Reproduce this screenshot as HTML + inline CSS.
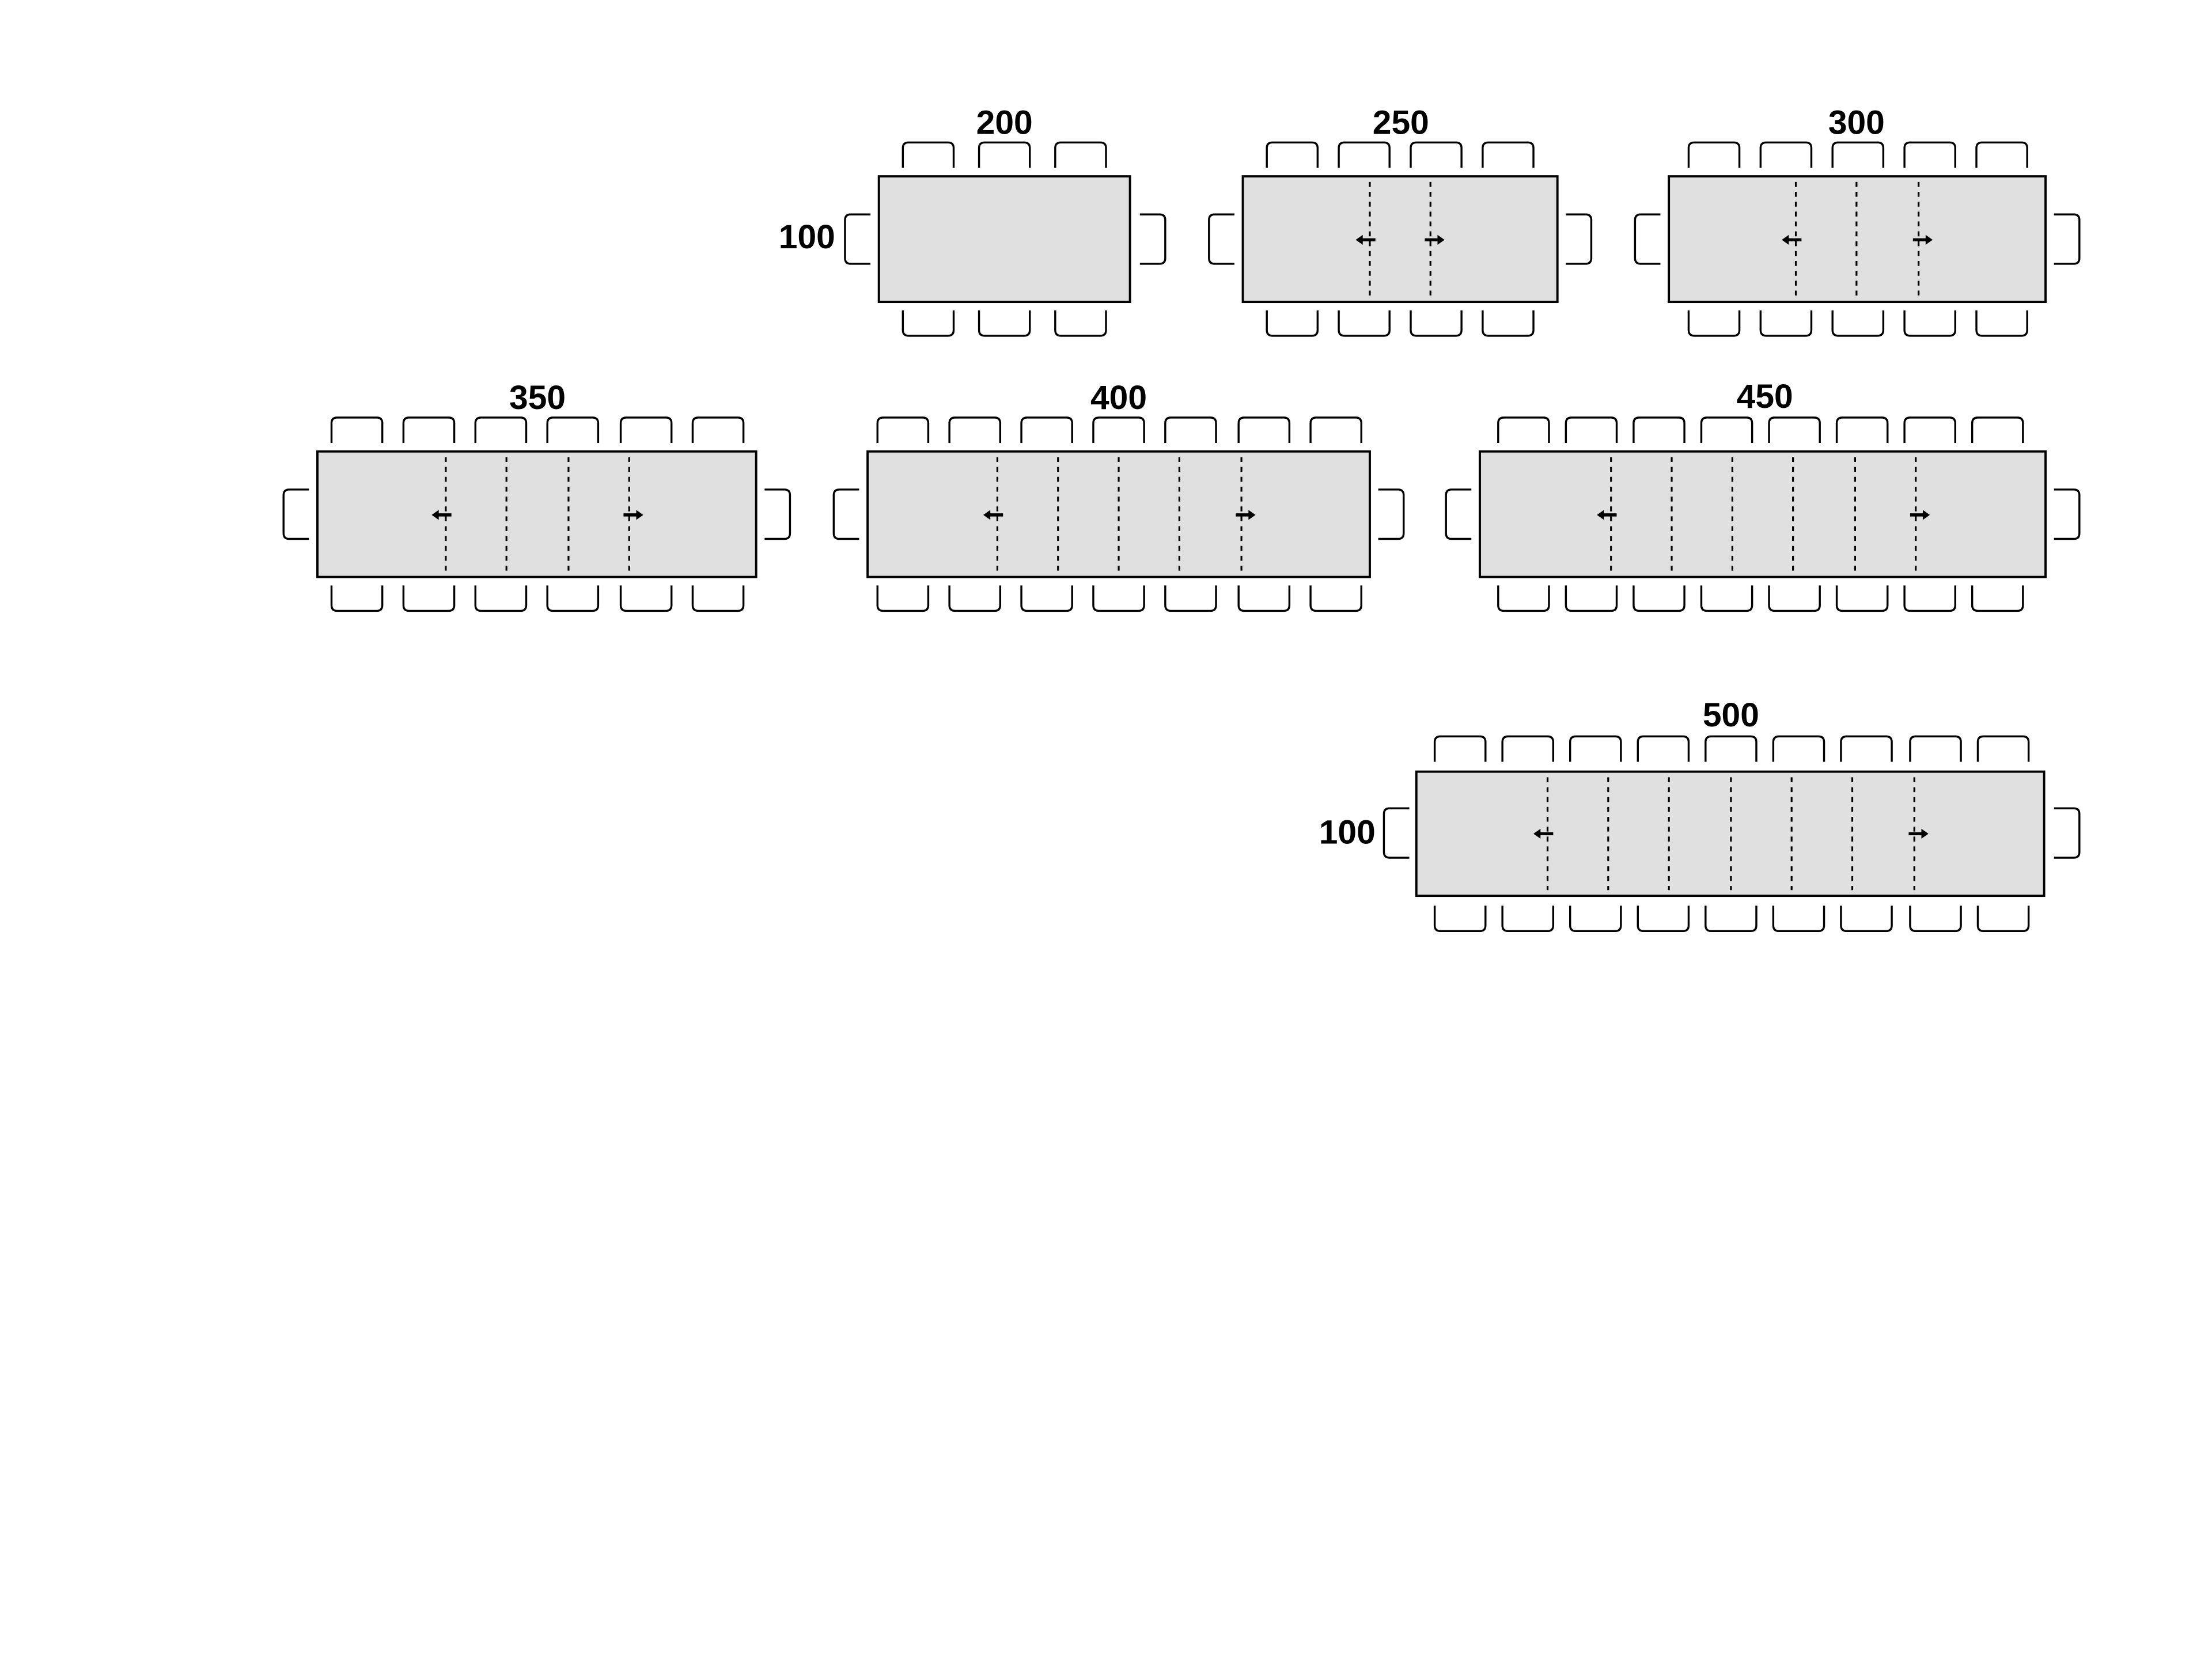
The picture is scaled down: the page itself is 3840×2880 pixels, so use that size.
<!DOCTYPE html>
<html><head><meta charset="utf-8"><style>
html,body{margin:0;padding:0;background:#fff;}
svg{display:block;}
text{font-family:"Liberation Sans","DejaVu Sans",sans-serif;font-weight:bold;font-size:24px;fill:#000;}
</style></head><body>
<svg width="3840" height="2880" viewBox="0 0 1568 1176" xmlns="http://www.w3.org/2000/svg">
<defs>
<path id="ct" d="M0,18 V4 Q0,0 4,0 H32 Q36,0 36,4 V18" fill="none" stroke="#000" stroke-width="1.4"/>
<path id="cb" d="M0,0 V14 Q0,18 4,18 H32 Q36,18 36,14 V0" fill="none" stroke="#000" stroke-width="1.4"/>
<path id="cl" d="M18,0 H4 Q0,0 0,4 V31 Q0,35 4,35 H18" fill="none" stroke="#000" stroke-width="1.4"/>
<path id="cr" d="M0,0 H14 Q18,0 18,4 V31 Q18,35 14,35 H0" fill="none" stroke="#000" stroke-width="1.4"/>
<g id="al"><line x1="4" y1="0" x2="-6" y2="0" stroke="#000" stroke-width="2.2"/><polygon points="-10,0 -5,-3.5 -5,3.5" fill="#000"/></g>
<g id="ar"><line x1="-4" y1="0" x2="6" y2="0" stroke="#000" stroke-width="2.2"/><polygon points="10,0 5,-3.5 5,3.5" fill="#000"/></g>
</defs>
<g stroke="#000" stroke-width="1.6" fill="#e0e0e0">
<rect x="623" y="125" width="178" height="89"/>
<rect x="881" y="125" width="223" height="89"/>
<rect x="1183" y="125" width="267" height="89"/>
<rect x="225" y="320" width="311" height="89"/>
<rect x="615" y="320" width="356" height="89"/>
<rect x="1049" y="320" width="401" height="89"/>
<rect x="1004" y="547" width="445" height="88"/>
</g>
<g stroke="#000" stroke-width="1.3" stroke-dasharray="3.5 3.5">
<line x1="971" y1="129" x2="971" y2="210"/><line x1="1014" y1="129" x2="1014" y2="210"/>
<line x1="1273" y1="129" x2="1273" y2="210"/><line x1="1316" y1="129" x2="1316" y2="210"/><line x1="1360" y1="129" x2="1360" y2="210"/>
<line x1="316" y1="324" x2="316" y2="405"/><line x1="359" y1="324" x2="359" y2="405"/><line x1="403" y1="324" x2="403" y2="405"/><line x1="446" y1="324" x2="446" y2="405"/>
<line x1="707" y1="324" x2="707" y2="405"/><line x1="750" y1="324" x2="750" y2="405"/><line x1="793" y1="324" x2="793" y2="405"/><line x1="836" y1="324" x2="836" y2="405"/><line x1="880" y1="324" x2="880" y2="405"/>
<line x1="1142" y1="324" x2="1142" y2="405"/><line x1="1185" y1="324" x2="1185" y2="405"/><line x1="1228" y1="324" x2="1228" y2="405"/><line x1="1271" y1="324" x2="1271" y2="405"/><line x1="1315" y1="324" x2="1315" y2="405"/><line x1="1358" y1="324" x2="1358" y2="405"/>
<line x1="1097" y1="551" x2="1097" y2="631"/><line x1="1140" y1="551" x2="1140" y2="631"/><line x1="1183" y1="551" x2="1183" y2="631"/><line x1="1227" y1="551" x2="1227" y2="631"/><line x1="1270" y1="551" x2="1270" y2="631"/><line x1="1313" y1="551" x2="1313" y2="631"/><line x1="1357" y1="551" x2="1357" y2="631"/>
</g>
<use href="#al" x="971" y="170"/><use href="#ar" x="1014" y="170"/>
<use href="#al" x="1273" y="170"/><use href="#ar" x="1360" y="170"/>
<use href="#al" x="316" y="365"/><use href="#ar" x="446" y="365"/>
<use href="#al" x="707" y="365"/><use href="#ar" x="880" y="365"/>
<use href="#al" x="1142" y="365"/><use href="#ar" x="1358" y="365"/>
<use href="#al" x="1097" y="591"/><use href="#ar" x="1357" y="591"/>
<use href="#ct" x="640" y="101"/><use href="#ct" x="694" y="101"/><use href="#ct" x="748" y="101"/>
<use href="#cb" x="640" y="220"/><use href="#cb" x="694" y="220"/><use href="#cb" x="748" y="220"/>
<use href="#cl" x="599" y="152"/><use href="#cr" x="808" y="152"/>
<use href="#ct" x="898" y="101"/><use href="#ct" x="949" y="101"/><use href="#ct" x="1000" y="101"/><use href="#ct" x="1051" y="101"/>
<use href="#cb" x="898" y="220"/><use href="#cb" x="949" y="220"/><use href="#cb" x="1000" y="220"/><use href="#cb" x="1051" y="220"/>
<use href="#cl" x="857" y="152"/><use href="#cr" x="1110" y="152"/>
<use href="#ct" x="1197" y="101"/><use href="#ct" x="1248" y="101"/><use href="#ct" x="1299" y="101"/><use href="#ct" x="1350" y="101"/><use href="#ct" x="1401" y="101"/>
<use href="#cb" x="1197" y="220"/><use href="#cb" x="1248" y="220"/><use href="#cb" x="1299" y="220"/><use href="#cb" x="1350" y="220"/><use href="#cb" x="1401" y="220"/>
<use href="#cl" x="1159" y="152"/><use href="#cr" x="1456" y="152"/>
<use href="#ct" x="235" y="296"/><use href="#ct" x="286" y="296"/><use href="#ct" x="337" y="296"/><use href="#ct" x="388" y="296"/><use href="#ct" x="440" y="296"/><use href="#ct" x="491" y="296"/>
<use href="#cb" x="235" y="415"/><use href="#cb" x="286" y="415"/><use href="#cb" x="337" y="415"/><use href="#cb" x="388" y="415"/><use href="#cb" x="440" y="415"/><use href="#cb" x="491" y="415"/>
<use href="#cl" x="201" y="347"/><use href="#cr" x="542" y="347"/>
<use href="#ct" x="622" y="296"/><use href="#ct" x="673" y="296"/><use href="#ct" x="724" y="296"/><use href="#ct" x="775" y="296"/><use href="#ct" x="826" y="296"/><use href="#ct" x="878" y="296"/><use href="#ct" x="929" y="296"/>
<use href="#cb" x="622" y="415"/><use href="#cb" x="673" y="415"/><use href="#cb" x="724" y="415"/><use href="#cb" x="775" y="415"/><use href="#cb" x="826" y="415"/><use href="#cb" x="878" y="415"/><use href="#cb" x="929" y="415"/>
<use href="#cl" x="591" y="347"/><use href="#cr" x="977" y="347"/>
<use href="#ct" x="1062" y="296"/><use href="#ct" x="1110" y="296"/><use href="#ct" x="1158" y="296"/><use href="#ct" x="1206" y="296"/><use href="#ct" x="1254" y="296"/><use href="#ct" x="1302" y="296"/><use href="#ct" x="1350" y="296"/><use href="#ct" x="1398" y="296"/>
<use href="#cb" x="1062" y="415"/><use href="#cb" x="1110" y="415"/><use href="#cb" x="1158" y="415"/><use href="#cb" x="1206" y="415"/><use href="#cb" x="1254" y="415"/><use href="#cb" x="1302" y="415"/><use href="#cb" x="1350" y="415"/><use href="#cb" x="1398" y="415"/>
<use href="#cl" x="1025" y="347"/><use href="#cr" x="1456" y="347"/>
<use href="#ct" x="1017" y="522"/><use href="#ct" x="1065" y="522"/><use href="#ct" x="1113" y="522"/><use href="#ct" x="1161" y="522"/><use href="#ct" x="1209" y="522"/><use href="#ct" x="1257" y="522"/><use href="#ct" x="1305" y="522"/><use href="#ct" x="1354" y="522"/><use href="#ct" x="1402" y="522"/>
<use href="#cb" x="1017" y="642"/><use href="#cb" x="1065" y="642"/><use href="#cb" x="1113" y="642"/><use href="#cb" x="1161" y="642"/><use href="#cb" x="1209" y="642"/><use href="#cb" x="1257" y="642"/><use href="#cb" x="1305" y="642"/><use href="#cb" x="1354" y="642"/><use href="#cb" x="1402" y="642"/>
<use href="#cl" x="981" y="573"/><use href="#cr" x="1456" y="573"/>
<text x="712" y="95" text-anchor="middle">200</text>
<text x="993" y="95" text-anchor="middle">250</text>
<text x="1316" y="95" text-anchor="middle">300</text>
<text x="381" y="290" text-anchor="middle">350</text>
<text x="793" y="290" text-anchor="middle">400</text>
<text x="1251" y="289" text-anchor="middle">450</text>
<text x="1227" y="515" text-anchor="middle">500</text>
<text x="572" y="176" text-anchor="middle">100</text>
<text x="955" y="598" text-anchor="middle">100</text>
</svg>
</body></html>
